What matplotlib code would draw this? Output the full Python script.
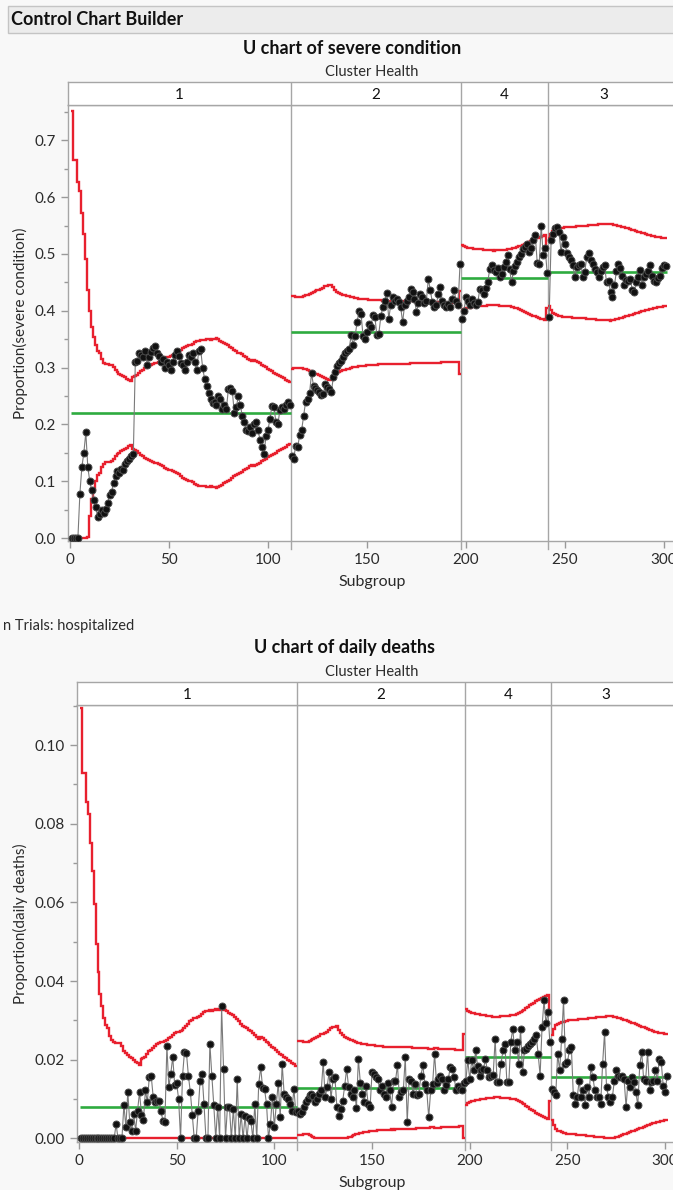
import numpy as np
import matplotlib
matplotlib.use("Agg")
import matplotlib.pyplot as plt
from matplotlib.patches import Rectangle
from matplotlib.ticker import MultipleLocator

plt.rcParams['font.family'] = ['Lato', 'DejaVu Sans']

# ---------------- data ----------------
phase_labels = ["1", "2", "4", "3"]

# proportion severe condition per subgroup (by Cluster Health phase)
severe_1 = [0, 0, 0, 0, 0.078, 0.125, 0.15, 0.186, 0.125, 0.10,
            0.084, 0.068, 0.055, 0.037, 0.042, 0.05, 0.045, 0.052, 0.062, 0.076,
            0.082, 0.097, 0.11, 0.118, 0.115, 0.122, 0.12, 0.13, 0.135, 0.14,
            0.145, 0.148, 0.31, 0.312, 0.326, 0.322, 0.318, 0.33, 0.305, 0.318,
            0.328, 0.335, 0.338, 0.326, 0.32, 0.31, 0.315, 0.30, 0.31, 0.305,
            0.296, 0.31, 0.322, 0.33, 0.32, 0.308, 0.305, 0.295, 0.31, 0.322,
            0.318, 0.326, 0.31, 0.295, 0.33, 0.332, 0.30, 0.28, 0.268, 0.255,
            0.245, 0.238, 0.24, 0.235, 0.25, 0.245, 0.228, 0.235, 0.228, 0.262,
            0.265, 0.258, 0.22, 0.23, 0.25, 0.235, 0.215, 0.205, 0.19, 0.188,
            0.195, 0.185, 0.2, 0.204, 0.19, 0.172, 0.16, 0.148, 0.18, 0.19,
            0.21, 0.233, 0.23, 0.205, 0.2, 0.225, 0.23, 0.228, 0.235, 0.24,
            0.235]
severe_2 = [0.144, 0.14, 0.163, 0.16, 0.181, 0.19, 0.215, 0.24, 0.245, 0.255,
            0.29, 0.268, 0.264, 0.26, 0.257, 0.252, 0.254, 0.272, 0.266, 0.262,
            0.257, 0.283, 0.292, 0.302, 0.308, 0.312, 0.318, 0.325, 0.33, 0.333,
            0.357, 0.34, 0.355, 0.38, 0.40, 0.395, 0.356, 0.351, 0.362, 0.377,
            0.372, 0.392, 0.389, 0.357, 0.36, 0.39, 0.407, 0.418, 0.431, 0.386,
            0.41, 0.424, 0.418, 0.42, 0.416, 0.407, 0.38, 0.41, 0.418, 0.425,
            0.438, 0.433, 0.42, 0.398, 0.413, 0.43, 0.424, 0.413, 0.418, 0.456,
            0.436, 0.415, 0.407, 0.41, 0.43, 0.442, 0.418, 0.41, 0.407, 0.412,
            0.407, 0.42, 0.436, 0.418, 0.41, 0.482]
severe_4 = [0.386, 0.40, 0.424, 0.418, 0.41, 0.42, 0.413, 0.41, 0.415, 0.439,
            0.436, 0.43, 0.44, 0.45, 0.474, 0.48, 0.472, 0.468, 0.475, 0.459,
            0.465, 0.477, 0.485, 0.498, 0.474, 0.45, 0.47, 0.478, 0.485, 0.495,
            0.50, 0.509, 0.512, 0.518, 0.503, 0.51, 0.524, 0.533, 0.484, 0.483,
            0.55, 0.498, 0.51, 0.467]
severe_3 = [0.389, 0.524, 0.535, 0.545, 0.548, 0.539, 0.503, 0.53, 0.518, 0.501,
            0.495, 0.489, 0.48, 0.459, 0.477, 0.48, 0.483, 0.459, 0.468, 0.495,
            0.501, 0.49, 0.482, 0.474, 0.468, 0.459, 0.47, 0.477, 0.48, 0.45,
            0.452, 0.433, 0.424, 0.445, 0.47, 0.483, 0.475, 0.462, 0.445, 0.455,
            0.452, 0.456, 0.436, 0.433, 0.451, 0.46, 0.471, 0.445, 0.46, 0.465,
            0.47, 0.48, 0.462, 0.452, 0.451, 0.458, 0.462, 0.475, 0.48, 0.479]

# proportion daily deaths per subgroup
deaths_1 = [0, 0, 0, 0, 0, 0, 0, 0, 0, 0,
            0, 0, 0, 0, 0, 0, 0, 0, 0.0036, 0,
            0, 0, 0.0085, 0.003, 0.0118, 0.0041, 0.002, 0.0062, 0.002, 0.0071,
            0.0118, 0.006, 0.0046, 0.0122, 0.0093, 0.0156, 0.0158, 0.0105, 0.0093, 0.0095,
            0.0096, 0.0069, 0.0044, 0.0042, 0.0236, 0.013, 0.0165, 0.0207, 0.0135, 0.014,
            0.01, 0, 0.0159, 0.022, 0.0218, 0.016, 0.0118, 0.006, 0, 0,
            0.007, 0.0146, 0.0165, 0.0087, 0, 0, 0.0241, 0.016, 0.0085, 0,
            0.008, 0, 0.0336, 0.0177, 0, 0.008, 0.008, 0, 0.0075, 0,
            0.015, 0, 0.0062, 0, 0.0056, 0, 0.0053, 0.0044, 0, 0.0087,
            0, 0.0139, 0.0181, 0.0128, 0.0125, 0.0087, 0, 0.0038, 0.0105, 0.003,
            0.0087, 0.0141, 0.0054, 0.019, 0.0114, 0.0105, 0.01, 0.0087, 0.0071, 0.0126,
            0.0067]
deaths_2 = [0.0071, 0.0063, 0.0066, 0.008, 0.0093, 0.0101, 0.011, 0.0114, 0.0108, 0.0093,
            0.0101, 0.0114, 0.0122, 0.0194, 0.0105, 0.013, 0.0168, 0.0101, 0.015, 0.0156,
            0.008, 0.0058, 0.0075, 0.0096, 0.0134, 0.0177, 0.013, 0.0114, 0.0105, 0.0122,
            0.0078, 0.0202, 0.0142, 0.0114, 0.0093, 0.0134, 0.0088, 0.008, 0.0168, 0.0164,
            0.0156, 0.015, 0.0122, 0.0134, 0.0114, 0.0105, 0.0142, 0.0122, 0.008, 0.0147,
            0.0147, 0.0186, 0.0105, 0.0118, 0.0122, 0.0207, 0.0041, 0.015, 0.0145, 0.0114,
            0.0139, 0.011, 0.0114, 0.016, 0.0186, 0.0139, 0.0122, 0.0054, 0.0122, 0.0139,
            0.0215, 0.0142, 0.015, 0.0158, 0.0152, 0.0122, 0.0135, 0.015, 0.0181, 0.0177,
            0.0156, 0.0122, 0.0134, 0.0125, 0.0122, 0.0142]
deaths_4 = [0.0147, 0.0199, 0.015, 0.0199, 0.0173, 0.0224, 0.0185, 0.016, 0.0173, 0.0176,
            0.0202, 0.0173, 0.0156, 0.016, 0.0162, 0.0253, 0.0143, 0.0143, 0.019, 0.0224,
            0.0241, 0.0143, 0.0143, 0.0245, 0.0279, 0.0224, 0.0245, 0.019, 0.0279, 0.0168,
            0.0224, 0.0228, 0.0236, 0.024, 0.0245, 0.0253, 0.0262, 0.0215, 0.016, 0.0283,
            0.0351, 0.0293, 0.0321, 0.0245]
deaths_3 = [0.0126, 0.0118, 0.011, 0.0215, 0.0173, 0.0253, 0.0351, 0.019, 0.0194, 0.0224,
            0.0232, 0.011, 0.0088, 0.0105, 0.0147, 0.0105, 0.0122, 0.0084, 0.013, 0.0105,
            0.0181, 0.0156, 0.0122, 0.0105, 0.0105, 0.0088, 0.019, 0.027, 0.013, 0.0105,
            0.0093, 0.0105, 0.0147, 0.0173, 0.016, 0.0156, 0.016, 0.015, 0.008, 0.0147,
            0.013, 0.0156, 0.0143, 0.0118, 0.0084, 0.0186, 0.022, 0.015, 0.0147, 0.022,
            0.0122, 0.0143, 0.0147, 0.0173, 0.0147, 0.0202, 0.0194, 0.0134, 0.0118, 0.016]

# n trials (hospitalized) per subgroup
hosp_1 = [7, 10, 10, 12, 13, 16, 20, 27, 42, 61,
          87, 110, 140, 165, 180, 220, 250, 265, 270, 272,
          275, 300, 350, 380, 410, 440, 470, 500, 540, 580,
          620, 490, 470, 440, 400, 360, 340, 320, 300, 285,
          275, 265, 260, 255, 245, 235, 225, 215, 205, 200,
          198, 192, 186, 178, 170, 160, 150, 146, 142, 140,
          138, 134, 128, 124, 122, 120, 119, 121, 118, 117,
          119, 116, 118, 114, 118, 122, 125, 130, 133, 138,
          145, 152, 160, 168, 175, 180, 186, 195, 205, 215,
          225, 238, 230, 235, 245, 260, 275, 290, 305, 325,
          345, 365, 390, 410, 440, 470, 500, 530, 570, 610,
          650]
hosp_2 = [800, 810, 820, 830, 835, 830, 800, 770, 740, 710,
          680, 650, 620, 600, 580, 560, 530, 500, 480, 470,
          465, 520, 590, 640, 680, 710, 740, 760, 780, 800,
          830, 860, 880, 900, 920, 930, 940, 950, 960, 975,
          990, 1000, 1010, 1020, 1030, 1035, 1040, 1040, 1045, 1040,
          1050, 1055, 1060, 1050, 1060, 1070, 1075, 1080, 1070, 1085,
          1090, 1095, 1100, 1110, 1120, 1115, 1130, 1140, 1150, 1160,
          1120, 1130, 1140, 1140, 1150, 1160, 1165, 1170, 1180, 1185,
          1190, 1200, 1205, 1210, 1220, 620]
hosp_4 = [1250, 1350, 1420, 1470, 1500, 1530, 1560, 1590, 1620, 1640,
          1660, 1700, 1720, 1740, 1760, 1780, 1790, 1780, 1750, 1720,
          1700, 1690, 1680, 1660, 1640, 1600, 1550, 1500, 1420, 1350,
          1280, 1210, 1140, 1080, 1030, 980, 930, 890, 860, 830,
          800, 770, 740, 1500]
hosp_3 = [1200, 950, 800, 760, 740, 720, 705, 690, 680, 672,
          668, 664, 660, 655, 650, 646, 642, 638, 634, 630,
          626, 620, 615, 610, 605, 600, 596, 592, 588, 590,
          584, 580, 595, 605, 615, 630, 645, 660, 675, 695,
          715, 735, 755, 780, 805, 830, 855, 880, 905, 935,
          965, 995, 1015, 1045, 1075, 1100, 1120, 1140, 1160, 1180]

severe_center = [0.22, 0.362, 0.458, 0.468]
deaths_center = [0.008, 0.0128, 0.0207, 0.0156]

severe_phases = [severe_1, severe_2, severe_4, severe_3]
deaths_phases = [deaths_1, deaths_2, deaths_4, deaths_3]
hosp_phases = [hosp_1, hosp_2, hosp_4, hosp_3]
for a, b, c in zip(severe_phases, deaths_phases, hosp_phases):
    assert len(a) == len(b) == len(c), (len(a), len(b), len(c))

x_ticks = [0, 50, 100, 150, 200, 250, 300]

# ---------------- style ----------------
W, H = 673, 1190
RED = '#e8202e'
GREEN = '#2eab3f'
GRID = '#a6a6a6'
TXT = '#2b2b2b'

fig = plt.figure(figsize=(W / 100, H / 100), dpi=100, facecolor='#f8f8f8')


def fx(px):
    return px / W


def fy(py):
    return 1 - py / H


# banner
fig.patches.append(Rectangle((fx(8), fy(33)), fx(680) - fx(8), fy(6) - fy(33),
                             transform=fig.transFigure, facecolor='#ececec',
                             edgecolor='#c4c4c4', lw=1.0, zorder=0))
fig.text(fx(11), fy(19.5), "Control Chart Builder", fontsize=13, fontweight='bold',
         color='#111111', ha='left', va='center')


def draw_chart(top, bottom, strip_top, left_px, xmax, values, centers, hosp,
               ylim, ymajor, yminor, yfmt, title, ylabel, title_y, cluster_y, title_x):
    right_px = 680
    ax = fig.add_axes([fx(left_px), fy(bottom), fx(right_px) - fx(left_px), fy(top) - fy(bottom)])
    ax_s = fig.add_axes([fx(left_px), fy(top), fx(right_px) - fx(left_px), fy(strip_top) - fy(top)])
    ax.set_facecolor('white')
    ax_s.set_facecolor('white')
    start = 1
    bounds = []
    for vals, c, n in zip(values, centers, hosp):
        vals = np.asarray(vals, float)
        n = np.asarray(n, float)
        x = np.arange(start, start + len(vals))
        h = 3 * np.sqrt(c / n)
        ucl = c + h
        lcl = np.maximum(0.0, c - h)
        edges = np.append(x - 0.5, x[-1] + 0.5)
        ax.stairs(ucl, edges, baseline=None, color=RED, lw=1.7, zorder=3)
        ax.stairs(lcl, edges, baseline=None, color=RED, lw=1.7, zorder=3)
        ax.hlines(c, edges[0], edges[-1], color=GREEN, lw=1.9, zorder=2)
        ax.plot(x, vals, color='#7a7a7a', lw=0.8, zorder=4)
        ax.plot(x, vals, ls='none', marker='o', ms=5.0, mfc='#111111', mec='#4a4a4a',
                mew=0.7, zorder=5)
        start += len(vals)
        bounds.append(edges[-1])
    mids = []
    prev = -1
    for b in bounds:
        mids.append((prev + b) / 2)
        prev = b
    mids[-1] = (bounds[-2] + bounds[-1]) / 2 - 2
    for a in (ax, ax_s):
        a.set_xlim(-1, xmax)
        for b in bounds[:-1]:
            a.axvline(b, color=GRID, lw=1.0, zorder=1)
        for s in a.spines.values():
            s.set_color(GRID)
            s.set_linewidth(1.0)
    ax_s.set_ylim(0, 1)
    ax_s.set_xticks([])
    ax_s.set_yticks([])
    for lab, m in zip(phase_labels, mids):
        ax_s.text(m, 0.45, lab, ha='center', va='center', fontsize=11, color='#111111')
    ax.set_ylim(*ylim)
    ax.yaxis.set_major_locator(MultipleLocator(ymajor))
    ax.yaxis.set_minor_locator(MultipleLocator(yminor))
    ax.yaxis.set_major_formatter(plt.FormatStrFormatter(yfmt))
    ax.set_xticks(x_ticks)
    ax.tick_params(axis='both', which='both', color='#999999', labelcolor=TXT,
                   labelsize=11, direction='out')
    ax.tick_params(axis='both', which='major', length=5, width=1)
    ax.tick_params(axis='y', which='minor', length=3, width=1)
    # separator ticks below axis
    for b in bounds[:-1]:
        ax.plot([b, b], [0, -0.018], transform=ax.get_xaxis_transform(), color=GRID,
                lw=1.0, clip_on=False)
    fig.text(fx(title_x), fy(title_y), title, fontsize=13, fontweight='bold',
             color='#111111', ha='center', va='center')
    fig.text(fx(372), fy(cluster_y), "Cluster Health", fontsize=10.5, color=TXT,
             ha='center', va='center')
    fig.text(fx(20), fy((top + bottom) / 2), ylabel, fontsize=11, color=TXT,
             rotation=90, ha='center', va='center')
    fig.text(fx(372), fy(bottom + 41), "Subgroup", fontsize=11.5, color=TXT,
             ha='center', va='center')
    return ax


draw_chart(top=105, bottom=541, strip_top=82, left_px=68, xmax=308.1,
           values=severe_phases, centers=severe_center, hosp=hosp_phases,
           ylim=(-0.005, 0.762), ymajor=0.1, yminor=0.05, yfmt='%.1f',
           title="U chart of severe condition", ylabel="Proportion(severe condition)",
           title_y=48, cluster_y=72, title_x=352)

fig.text(fx(3), fy(626), "n Trials: hospitalized", fontsize=10.5, color=TXT,
         ha='left', va='center')

draw_chart(top=705, bottom=1142, strip_top=682, left_px=77, xmax=307.6,
           values=deaths_phases, centers=deaths_center, hosp=hosp_phases,
           ylim=(-0.0009, 0.1102), ymajor=0.02, yminor=0.01, yfmt='%.2f',
           title="U chart of daily deaths", ylabel="Proportion(daily deaths)",
           title_y=648, cluster_y=672, title_x=345)

fig.savefig("out.png", dpi=100, facecolor=fig.get_facecolor())
